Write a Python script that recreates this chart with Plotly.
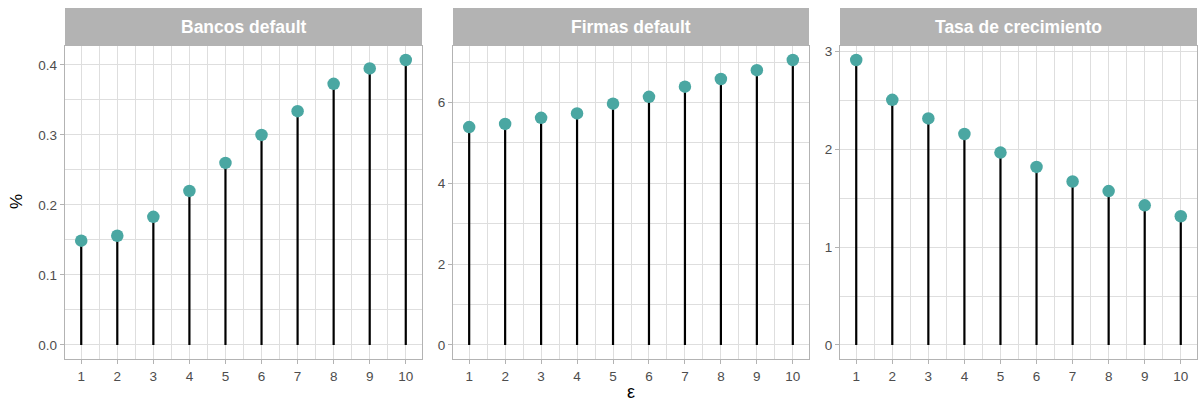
import plotly.graph_objects as go

eps = [1, 2, 3, 4, 5, 6, 7, 8, 9, 10]
panel_titles = ["Bancos default", "Firmas default", "Tasa de crecimiento"]
bancos = [0.149, 0.156, 0.183, 0.220, 0.260, 0.300, 0.334, 0.373, 0.395, 0.407]
firmas = [5.39, 5.47, 5.62, 5.73, 5.97, 6.14, 6.39, 6.58, 6.80, 7.05]
tasa = [2.912, 2.505, 2.315, 2.156, 1.966, 1.820, 1.671, 1.573, 1.427, 1.315]
series = [bancos, firmas, tasa]
y_ticks = [[0.0, 0.1, 0.2, 0.3, 0.4], [0, 2, 4, 6], [0, 1, 2, 3]]
y_ticklabels = [["0.0", "0.1", "0.2", "0.3", "0.4"], ["0", "2", "4", "6"], ["0", "1", "2", "3"]]
y_minor = [0.05, 1, 0.5]

W, H = 1198, 401
panel_px = [(65, 422), (453, 809), (840, 1197)]
top_px, bot_px, strip_top = 44, 359, 6

POINT = "#4AA7A2"
GRID = "#DEDEDE"
BORDER = "#B3B3B3"
TEXT = "#4D4D4D"
FONT = "Liberation Sans, Arial"

fig = go.Figure()
shapes, annotations = [], []
ydom = [(H - bot_px) / H, (H - top_px) / H]

for i, (vals, title) in enumerate(zip(series, panel_titles)):
    sfx = "" if i == 0 else str(i + 1)
    xs, ys = [], []
    for x, v in zip(eps, vals):
        xs += [x, x, None]
        ys += [0, v, None]
    fig.add_trace(go.Scatter(x=xs, y=ys, mode="lines", line=dict(color="black", width=2.2),
                             xaxis="x" + sfx, yaxis="y" + sfx, showlegend=False, hoverinfo="skip"))
    fig.add_trace(go.Scatter(x=eps, y=vals, mode="markers",
                             marker=dict(color=POINT, size=12.5, line=dict(width=0)),
                             xaxis="x" + sfx, yaxis="y" + sfx, showlegend=False))
    vmax = max(vals)
    pad = vmax * 0.05
    x0, x1 = panel_px[i]
    fig.update_layout(**{
        "xaxis" + sfx: dict(
            domain=[x0 / W, x1 / W], range=[0.55, 10.45], anchor="y" + sfx,
            tickmode="array", tickvals=eps, ticktext=[str(e) for e in eps],
            showgrid=True, gridcolor=GRID, gridwidth=1, zeroline=False,
            minor=dict(showgrid=True, gridcolor=GRID, gridwidth=0.6, dtick=0.5, tick0=0.5),
            showline=True, mirror=True, linecolor=BORDER, linewidth=1.3,
            ticks="outside", ticklen=4, tickcolor=BORDER, tickwidth=1,
            tickfont=dict(family=FONT, size=13.5, color=TEXT),
            fixedrange=True,
        ),
        "yaxis" + sfx: dict(
            domain=ydom, range=[-pad, vmax + pad], anchor="x" + sfx,
            tickmode="array", tickvals=y_ticks[i], ticktext=y_ticklabels[i],
            showgrid=True, gridcolor=GRID, gridwidth=1, zeroline=False,
            minor=dict(showgrid=True, gridcolor=GRID, gridwidth=0.6, dtick=y_minor[i] * 2, tick0=y_minor[i]),
            showline=True, mirror=True, linecolor=BORDER, linewidth=1.3,
            ticks="outside", ticklen=4, tickcolor=BORDER, tickwidth=1,
            tickfont=dict(family=FONT, size=13.5, color=TEXT),
            fixedrange=True,
        ),
    })
    shapes.append(dict(type="rect", xref="paper", yref="paper",
                       x0=x0 / W, x1=x1 / W, y0=(H - top_px) / H, y1=(H - strip_top) / H,
                       fillcolor=BORDER, line=dict(width=0), layer="above"))
    annotations.append(dict(text="<b>" + title + "</b>", xref="paper", yref="paper",
                            x=(x0 + x1) / 2 / W, y=(H - (top_px + strip_top) / 2) / H,
                            xanchor="center", yanchor="middle", showarrow=False,
                            font=dict(family=FONT, size=17.5, color="white")))

annotations.append(dict(text="%", xref="paper", yref="paper", x=17 / W, y=(H - 201) / H,
                        xanchor="center", yanchor="middle", showarrow=False, textangle=-90,
                        font=dict(family=FONT, size=17, color="black")))
annotations.append(dict(text="ε", xref="paper", yref="paper", x=631 / W, y=(H - 392) / H,
                        xanchor="center", yanchor="middle", showarrow=False,
                        font=dict(family=FONT, size=18, color="black")))

fig.update_layout(width=W, height=H, margin=dict(l=0, r=0, t=0, b=0),
                  paper_bgcolor="white", plot_bgcolor="white",
                  shapes=shapes, annotations=annotations, showlegend=False)

fig.write_html("out.html",
               config={"displayModeBar": False},
               post_script="document.body.style.margin='0';document.body.style.padding='0';"
                           "document.documentElement.style.overflow='hidden';")
